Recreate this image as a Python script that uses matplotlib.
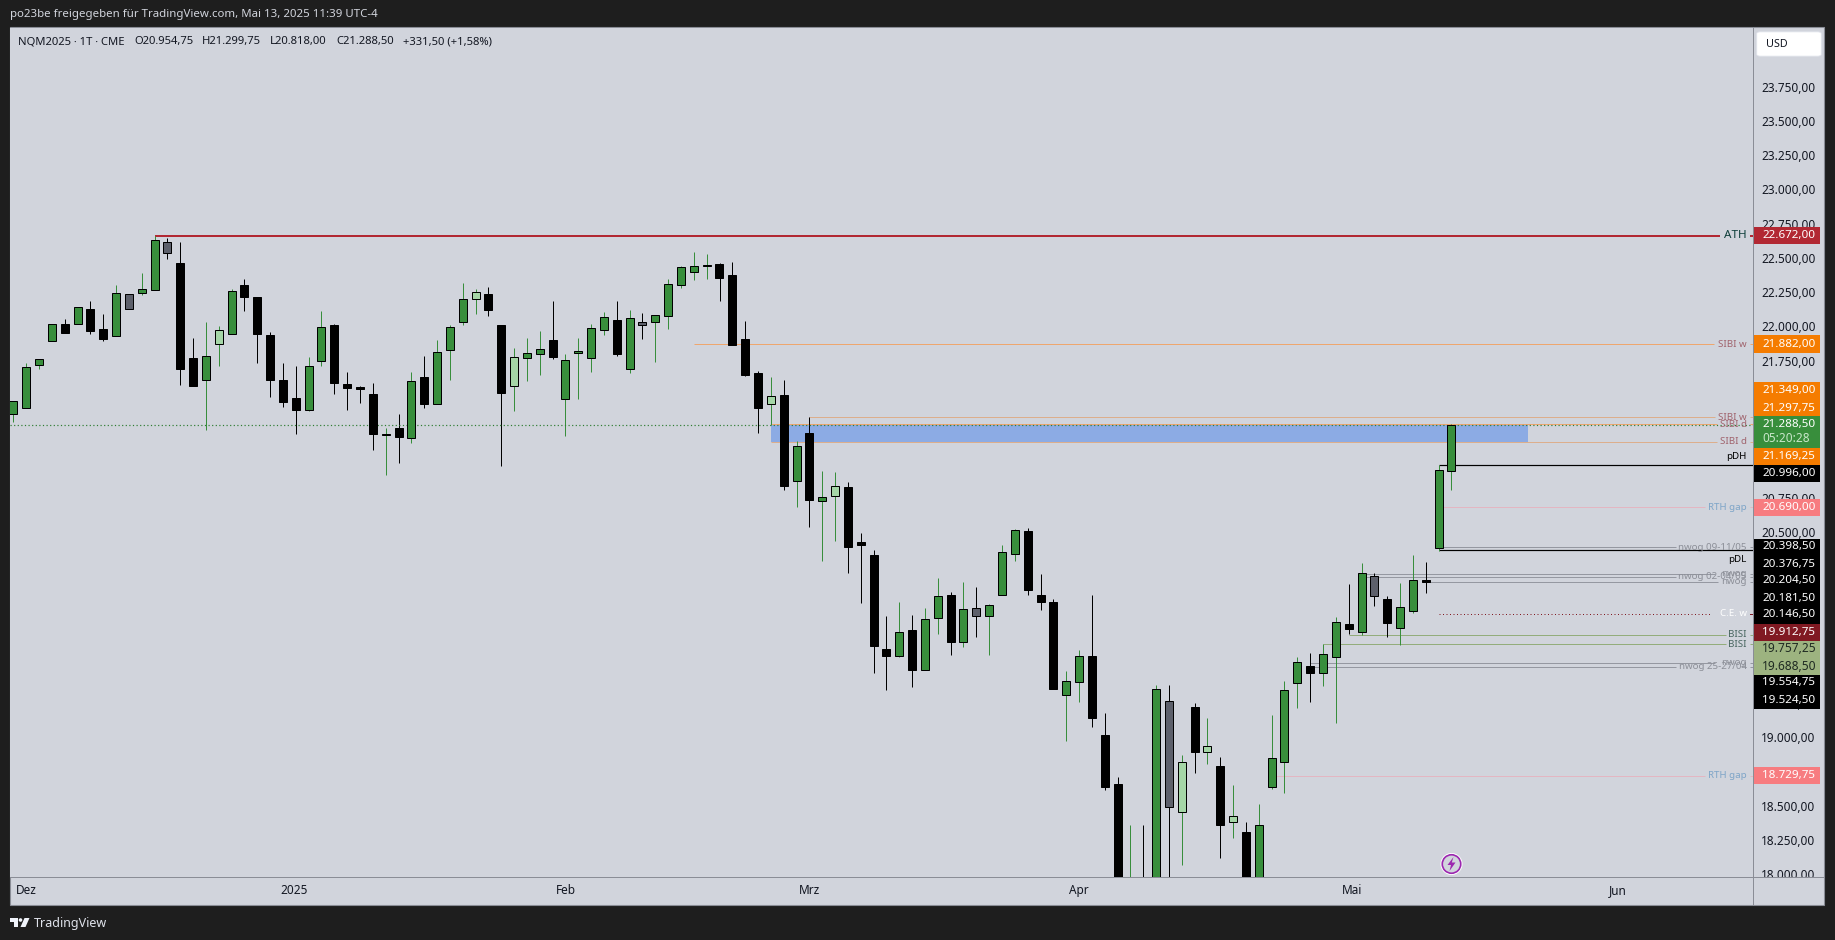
import matplotlib
matplotlib.use("Agg")
import matplotlib.pyplot as plt
from matplotlib.patches import Rectangle, Polygon, Ellipse, FancyBboxPatch
from matplotlib.lines import Line2D
from matplotlib.transforms import Bbox, ScaledTranslation

plt.rcParams['font.family'] = ['Noto Sans', 'DejaVu Sans']

W, H = 1835, 940

# candle data, left to right: kind, high, body top, body bottom, low
kind = ("g g g g k g k k g s g g s k k g l g k k k k k g g k k k k g k g k g g "
        "g l k k l g g k g g g g k g s g g g g g k k k k l k g k g l k "
        "k k k g k g g k g s g g g k k k g g k k k g k g s l k l k l k g g g g k g g "
        "k g s k g g k g g").split()
highs = [21464,21741,21770,22026,22065,22150,22196,22101,22313,22245,22401,22671,22657,22627,21926,22043,22014,22284,22357,22226,
         21970,21743,21721,21787,22123,22028,21678,21575,21597,21269,21371,21678,21795,21911,22021,
         22328,22284,22299,22021,21853,21926,21977,22196,21809,21926,22028,22116,22196,22131,22109,22092,22357,22452,22554,22540,
         22474,22481,22050,21685,21641,21619,21174,21349,
         20955,20945,20872,20502,20378,19895,19998,19903,19954,20173,20071,20144,20107,19983,20414,20531,20538,20202,20020,19494,19647,
         20049,19187,18719,18369,18369,19391,19391,18880,19260,19150,18865,18661,
         18390,18522,19172,19420,19596,19625,19691,19886,
         20129,20282,20209,20041,20136,20341,20290,20998,21299.75]
tops  = [21464,21712,21770,22026,22028,22150,22138,21992,22252,22245,22282,22639,22625,22474,21780,21792,21982,22267,22313,22226,
         21948,21619,21488,21719,22004,22021,21590,21568,21517,21225,21269,21609,21641,21821,22004,
         22209,22260,22247,22021,21785,21814,21843,21911,21763,21831,21997,22077,22058,22070,22040,22092,22318,22442,22450,22459,
         22467,22386,21919,21670,21500,21510,21135,21232,
         20762,20843,20838,20436,20341,19654,19776,19793,19871,20039,20049,19944,19951,19973,20361,20521,20516,20049,19998,19418,19601,
         19603,19026,18668,17950,17950,19360,19272,18827,19231,18943,18800,18432,
         18317,18366,18855,19352,19557,19530,19615,19849,
         19837,20207,20185,20019,19958,20156,20158,20959,21288.5]
bots  = [21373,21417,21731,21907,21963,22031,21977,21919,21943,22140,22257,22279,22549,21700,21575,21622,21885,21958,22226,21955,
         21619,21458,21400,21402,21760,21597,21561,21553,21225,21217,21203,21198,21444,21446,21841,
         22045,22213,22131,21524,21578,21782,21812,21787,21483,21816,21782,21987,21809,21702,22023,22045,22089,22316,22411,22454,
         22364,21875,21656,21415,21446,20845,20884,20743,
         20738,20775,20400,20414,19676,19603,19606,19501,19503,19883,19706,19708,19898,19898,20051,20351,20085,19998,19362,19321,19416,
         19150,18646,17800,17700,17700,17700,18503,18466,18902,18904,18369,18393,
         17800,17850,18648,18831,19408,19479,19481,19598,
         19800,19781,20044,19844,19810,19934,20144,20394,20954.75]
lows  = [21315,21417,21702,21907,21963,22031,21955,21904,21943,22140,22240,22279,22503,21583,21575,21254,21721,21958,22123,21743,
         21495,21422,21225,21393,21721,21517,21400,21451,21108,20925,21013,21159,21415,21446,21619,
         22021,22101,22087,20991,21393,21612,21656,21773,21210,21480,21678,21948,21795,21670,21919,21751,21992,22291,22350,22357,
         22196,21875,21648,21232,21291,20816,20692,20545,
         20297,20443,20210,19990,19479,19355,19596,19377,19503,19764,19611,19669,19742,19611,20051,20297,20049,19939,19362,18982,19267,
         19085,18624,17600,17500,17500,17600,17600,18077,18749,18814,18128,18274,
         17700,17800,18631,18602,19223,19267,19384,19114,
         19764,19756,19968,19742,19683,19917,20063,20372,20818]

y_ticks = [18000,18250,18500,18750,19000,19250,19500,19750,20000,20250,20500,20750,21000,21250,21500,21750,22000,22250,22500,22750,23000,23250,23500,23750]
month_pos = [1, 21.85, 43, 62, 83, 104.3, 125]
month_names = ["Dez", "2025", "Feb", "Mrz", "Apr", "Mai", "Jun"]

last_price = 21288.5
zone_start, zone_end, zone_hi, zone_lo = 59, 118, 21297.75, 21169.25

# level lines: price, first candle, right end in px, colour, width, label, label colour
levels = [
    (22672.00, 11, 1720, "#b22833", 2.0, "ATH", "#0f3f3b"),
    (21882.00, 53, 1714, "#eea66e", 1.0, "SIBI w", "#a0636d"),
    (21349.00, 62, 1715, "#dcae8c", 1.0, "SIBI w", "#a0636d"),
    (21297.75, 59, 1717, "#eea66e", 1.0, "SIBI d", "#a0636d"),
    (21169.25, 59, 1717, "#dcae8c", 1.0, "SIBI d", "#a0636d"),
    (20996.00, 111, 1753, "#000000", 1.2, "", "#000000"),
    (20690.00, 111, 1705, "#e3b6c2", 1.0, "RTH gap", "#7ea5c8"),
    (20398.50, 111, 1676, "#9598a1", 1.0, "nwog 09-11/05", "#8c8f98"),
    (20376.75, 111, 1753, "#000000", 1.2, "", "#000000"),
    (20204.50, 105, 1715, "#9598a1", 1.0, "nwog", "#8c8f98"),
    (20181.50, 105, 1676, "#9598a1", 1.0, "nwog 02-04/05", "#8c8f98"),
    (20146.50, 110, 1718, "#9598a1", 1.0, "nwog", "#8c8f98"),
    (19757.25, 104, 1726, "#93ad7c", 1.0, "BISI", "#47655f"),
    (19688.50, 102, 1726, "#93ad7c", 1.0, "BISI", "#47655f"),
    (19554.75, 101, 1715, "#9598a1", 1.0, "nwog", "#8c8f98"),
    (19524.50, 101, 1676, "#9598a1", 1.0, "nwog 25-27/04", "#8c8f98"),
    (18729.75, 98, 1705, "#e3b6c2", 1.0, "RTH gap", "#7ea5c8"),
]
ce_price, ce_start = 19912.75, 111

# price tags: text, stacked centre y in px, fill, text colour
tags = [
    ("22.672,00", 235.7, "#b22833", "white"),
    ("21.882,00", 344.0, "#f57c00", "white"),
    ("21.349,00", 391.0, "#f57c00", "white"),
    ("21.297,75", 408.0, "#f57c00", "white"),
    ("21.169,25", 456.5, "#f57c00", "white"),
    ("20.996,00", 473.5, "#000000", "white"),
    ("20.690,00", 507.5, "#f77c80", "white"),
    ("20.398,50", 547.0, "#000000", "white"),
    ("20.376,75", 564.0, "#000000", "white"),
    ("20.204,50", 581.0, "#000000", "white"),
    ("20.181,50", 598.0, "#000000", "white"),
    ("20.146,50", 615.0, "#000000", "white"),
    ("19.912,75", 632.0, "#801922", "white"),
    ("19.757,25", 649.0, "#9db380", "#1f2a22"),
    ("19.688,50", 666.0, "#9db380", "#1f2a22"),
    ("19.554,75", 683.0, "#000000", "white"),
    ("19.524,50", 700.0, "#000000", "white"),
    ("18.729,75", 775.3, "#f77c80", "white"),
]

BG, DARK = "#d1d4dc", "#1e1e1e"
fig = plt.figure(figsize=(W/100, H/100), dpi=100, facecolor=DARK)

L, R, T, B = 10.3, 1753.0, 27.5, 877.0
ax = fig.add_axes([L/W, 1-B/H, (R-L)/W, (B-T)/H], facecolor=BG)
STEP, X0 = 12.84, 13.3
PY = 0.1369
ax.set_xlim((L-X0)/STEP, (R-X0)/STEP)
ax.set_ylim(last_price-(B-425.3)/PY, last_price+(425.3-T)/PY)
idx = lambda px: (px-X0)/STEP
fx = lambda px: px/W
fy = lambda py: 1-py/H
px2 = 0.72  # points per pixel

# chart frame + right scale + time bar
fig.add_artist(Rectangle((fx(9.5), fy(904.5)), (1824-9.5)/W, (904.5-27)/H, transform=fig.transFigure,
                         fc=BG, ec="#8a8d96", lw=0.8, zorder=-1))
for s in ax.spines.values():
    s.set_visible(False)

# candles
x = list(range(len(highs)))
wick_col = {"g": "#388e3c", "l": "#388e3c", "k": "#000000", "s": "#000000"}
fill_col = {"g": "#388e3c", "l": "#a5d6a7", "k": "#000000", "s": "#5d606b"}
ax.vlines(x, lows, highs, colors=[wick_col[k] for k in kind], linewidth=1.0*px2, zorder=3)
ax.bar(x, [t-b for t, b in zip(tops, bots)], bottom=bots, width=8/STEP,
       color=[fill_col[k] for k in kind], edgecolor="#000000", linewidth=1.0*px2, zorder=4)

# zone
ax.add_patch(Rectangle((zone_start, zone_lo), zone_end-zone_start, zone_hi-zone_lo, fc="#8cabe4", ec="none", zorder=1))
# level lines and labels
for price, start, end, col, lw, lab, lc in levels:
    ax.plot([start, idx(end)], [price, price], color=col, lw=lw*px2, zorder=2, solid_capstyle="butt")
    if lab:
        ax.plot([idx(1750), idx(1753)], [price, price], color=col, lw=lw*px2, zorder=2, solid_capstyle="butt")
        ax.text(idx(1746.7), price, lab, ha="right", va="center", fontsize=8.4 if lab == "ATH" else 7.0,
                color=lc, zorder=5)
ax.text(idx(1746.7), 21059, "pDH", ha="right", va="center", fontsize=7.0, color="#000000", zorder=5)
ax.text(idx(1746.7), 20310, "pDL", ha="right", va="center", fontsize=7.0, color="#000000", zorder=5)
ax.plot([ce_start, idx(1712)], [ce_price, ce_price], color="#801922", lw=1.0*px2, ls=(0, (1, 2.5)), zorder=2)
ax.plot([idx(1750), idx(1753)], [ce_price, ce_price], color="#801922", lw=1.0*px2, zorder=2)
ax.text(idx(1746.7), ce_price, "C.E. w", ha="right", va="center", fontsize=7.0, color="white", fontweight="bold", zorder=5)
ax.plot([idx(L), idx(R)], [last_price, last_price], color="#2f7d33", lw=1.2*px2, ls=(0, (1, 2)), zorder=3)

# axes ticks
ax.yaxis.tick_right()
ax.set_yticks(y_ticks)
ax.set_yticklabels([f"{v:,.2f}".replace(",", "X").replace(".", ",").replace("X", ".") for v in y_ticks],
                   fontsize=8.5, color="#131722")
ax.tick_params(axis="y", length=0, pad=8*px2)
ax.set_xticks(month_pos)
ax.set_xticklabels(month_names, fontsize=8.5, color="#131722")
ax.tick_params(axis="x", length=0, pad=7*px2)
ax.get_xticklabels()[1].set_fontweight("bold")
clip = Bbox([[R, H-B], [1824, H-T]])
lift = ScaledTranslation(0, 1.5/100, fig.dpi_scale_trans)
for t in ax.get_yticklabels():
    t.set_verticalalignment("center_baseline")
    t.set_transform(t.get_transform() + lift)
    t.set_clip_box(clip)
    t.set_clip_on(True)

# frame lines
fig.add_artist(Line2D([fx(R), fx(R)], [fy(904.5), fy(27)], color="#8a8d96", lw=1*px2, zorder=2))
fig.add_artist(Line2D([fx(9.5), fx(1824)], [fy(877), fy(877)], color="#8a8d96", lw=1*px2, zorder=2))

# price tags
TX = 1762.0
for txt, yc, fc, tc in tags:
    fig.add_artist(Rectangle((fx(1754), fy(yc+8.5)), 66/W, 17/H, transform=fig.transFigure, fc=fc, ec="none", zorder=2))
    fig.text(fx(TX), fy(yc), txt, color=tc, fontsize=8.4 if tc == "white" else 8.6, va="center", ha="left",
             fontweight="normal" if tc != "white" else "bold", zorder=4)
# live price tag
fig.add_artist(Rectangle((fx(1754), fy(448)), 66/W, 31.5/H, transform=fig.transFigure, fc="#388e3c", ec="none", zorder=3))
fig.text(fx(TX), fy(424.5), "21.288,50", color="white", fontsize=8.4, va="center", ha="left", fontweight="bold", zorder=4)
fig.text(fx(TX), fy(439), "05:20:28", color="#c8e6c9", fontsize=8.5, va="center", ha="left", zorder=4)

# USD button
fig.add_artist(FancyBboxPatch((fx(1758), fy(55.5)), 62/W, 23/H, boxstyle="round,pad=0.0007,rounding_size=0.002",
                              transform=fig.transFigure, fc="white", ec="#e0e3eb", lw=0.6, zorder=3))
fig.text(fx(1766), fy(44.5), "USD", color="#131722", fontsize=7.8, va="center", ha="left", zorder=4)

# header + legend
fig.text(fx(10), fy(14.5), "po23be freigegeben für TradingView.com, Mai 13, 2025 11:39 UTC-4", color="#d1d4dc",
         fontsize=8.25, va="center", ha="left")
legend_items = [("NQM2025 · 1T · CME", 18), ("O20.954,75", 134), ("H21.299,75", 201.5), ("L20.818,00", 270),
                ("C21.288,50", 336), ("+331,50 (+1,58%)", 403)]
for txt, px in legend_items:
    fig.text(fx(px), fy(41.5), txt, color="#131722", fontsize=8.1, va="center", ha="left", zorder=4)

# footer logo
fig.add_artist(Polygon([(fx(10.3), fy(918)), (fx(18), fy(918)), (fx(18), fy(927)), (fx(14), fy(927)), (fx(14), fy(921.5)), (fx(10.3), fy(921.5))],
                       closed=True, transform=fig.transFigure, fc="#f0f3fa", ec="none"))
fig.add_artist(Ellipse((fx(20.5), fy(920)), 3.6/W, 3.6/H, transform=fig.transFigure, fc="#f0f3fa", ec="none"))
fig.add_artist(Polygon([(fx(24.5), fy(918)), (fx(29.5), fy(918)), (fx(25.5), fy(927)), (fx(20.5), fy(927))],
                       closed=True, transform=fig.transFigure, fc="#f0f3fa", ec="none"))
fig.text(fx(33.5), fy(923), "TradingView", color="#e0e3eb", fontsize=9.0, va="center", ha="left")

# lightning badge
cx, cy = 1451.5, 864
fig.add_artist(Ellipse((fx(cx), fy(cy)), 22/W, 22/H, transform=fig.transFigure, fc="white", ec="none", zorder=3))
fig.add_artist(Ellipse((fx(cx), fy(cy)), 18.5/W, 18.5/H, transform=fig.transFigure, fc=BG, ec="#9c27b0", lw=1.2, zorder=3))
fig.add_artist(Polygon([(fx(cx+2), fy(cy-7)), (fx(cx-4), fy(cy+1)), (fx(cx-0.5), fy(cy+1)), (fx(cx-2), fy(cy+7)),
                        (fx(cx+4), fy(cy-1.5)), (fx(cx+0.3), fy(cy-1.5))],
                       closed=True, transform=fig.transFigure, fc="#9c27b0", ec="none", zorder=4))

fig.savefig("out.png", dpi=100, facecolor=DARK)
